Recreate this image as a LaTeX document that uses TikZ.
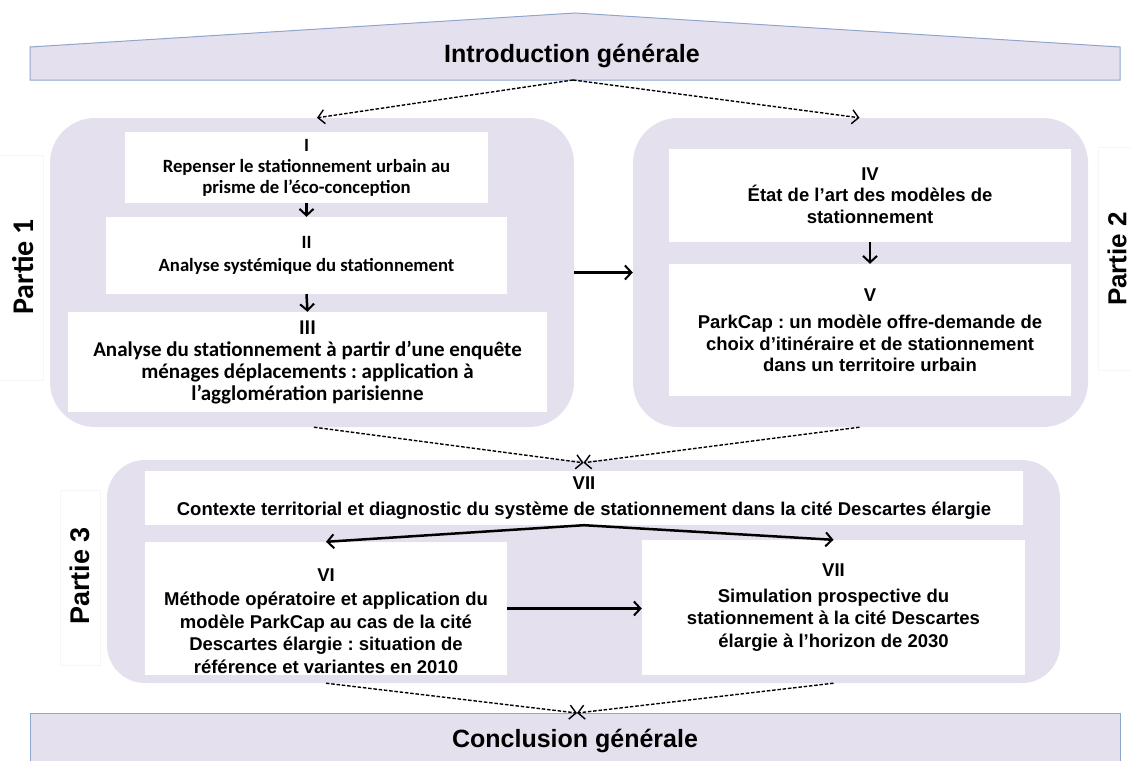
\documentclass[tikz,border=0pt]{standalone}
\usepackage{fontspec}
\setmainfont{Liberation Sans}
\newfontfamily\calib{Carlito}
\usetikzlibrary{arrows.meta,calc}
\definecolor{lav}{HTML}{E5E0EE}
\definecolor{bord}{HTML}{8EA6CC}
\definecolor{faint}{HTML}{F6F6F6}
\frenchspacing
\tikzset{
  container/.style={fill=lav, rounded corners=45pt, inner sep=0pt},
  wbox/.style={fill=white, inner sep=0pt, align=center, text=black},
  partlabel/.style={rotate=90, inner sep=0pt, font=\bfseries\fontsize{27}{30}\selectfont},
  faintframe/.style={draw=faint, line width=0.8pt},
  arr/.style={-{Straight Barb[length=6.5pt,width=14pt,line width=2pt]}, line width=2.5pt},
  darr/.style={dash pattern=on 3.5pt off 1.8pt, line width=1.4pt, -{Straight Barb[length=6.5pt,width=14pt,line width=1.4pt]}},
  fA/.style={font=\calib\bfseries\fontsize{18.7}{21}\selectfont},
  fB/.style={font=\calib\bfseries\fontsize{21}{22}\selectfont},
  fC/.style={font=\bfseries\fontsize{18.5}{21.5}\selectfont},
  fD/.style={font=\bfseries\fontsize{18.5}{22.5}\selectfont},
  fT/.style={font=\bfseries\fontsize{25}{28}\selectfont}
}
\begin{document}
\begin{tikzpicture}[x=1pt,y=-1pt]
\useasboundingbox (0,0) rectangle (1131,760);

% faint text frames of the side labels
\draw[faintframe] (-2,155) -- (43,155) -- (43,380) -- (-2,380);
\draw[faintframe] (1133,147) -- (1098,147) -- (1098,370) -- (1133,370);
\draw[faintframe] (60,490) rectangle (100,665);

% introduction banner
\draw[fill=lav, draw=bord, line width=1pt] (30,80) -- (30,47) -- (575,13) -- (1120,47) -- (1120,80) -- cycle;
\node[fT, anchor=base, inner sep=0pt] (intro) at (572,63) {Introduction générale};
\coordinate (introb) at (573,80);

% containers
\node[container, minimum width=524pt, minimum height=309pt] (c1) at (312,272.5) {};
\node[container, minimum width=455pt, minimum height=309pt] (c2) at (860.5,272.5) {};
\node[container, rounded corners=38pt, minimum width=953pt, minimum height=223pt] (c3) at (583.5,571.5) {};

% side labels
\node[partlabel, font=\calib\bfseries\fontsize{30}{32}\selectfont] (p1) at (23,267) {Partie 1};
\node[partlabel, font=\bfseries\fontsize{26}{28}\selectfont] (p2) at (1117,259) {Partie 2};
\node[partlabel] (p3) at (80,576) {Partie 3};

% partie 1
\node[wbox, fA, minimum width=363pt, minimum height=71pt] (b1) at (306.5,167.5)
  {I\\Repenser le stationnement urbain au\\prisme de l’éco-conception};
\node[wbox, fA, minimum width=401pt, minimum height=77pt] (b2) at (306.5,255.5)
  {II\\[2pt]Analyse systémique du stationnement};
\node[wbox, fB, minimum width=479pt, minimum height=100pt] (b3) at (307.5,362)
  {III\\Analyse du stationnement à partir d’une enquête\\ménages déplacements : application à\\l’agglomération parisienne};

% partie 2
\node[wbox, fC, minimum width=402pt, minimum height=93pt] (b4) at (870,195.5)
  {IV\\État de l’art des modèles de\\stationnement};
\node[wbox, fC, minimum width=402pt, minimum height=132pt] (b5) at (870,330)
  {V\\[6pt]ParkCap : un modèle offre-demande de\\choix d’itinéraire et de stationnement\\dans un territoire urbain};

% partie 3
\node[wbox, fD, minimum width=878pt, minimum height=54pt] (b7) at (584,498)
  {VII\\[3pt]Contexte territorial et diagnostic du système de stationnement dans la cité Descartes élargie};
\node[wbox, minimum width=362pt, minimum height=133pt] (b6) at (326,608.5) {};
\node[fD, align=center, inner sep=0pt] (t6) at (326,621)
  {VI\\[2pt]Méthode opératoire et application du\\modèle ParkCap au cas de la cité\\Descartes élargie : situation de\\référence et variantes en 2010};
\node[wbox, fD, minimum width=383pt, minimum height=135pt] (b8) at (833.5,607.5)
  {VII\\[3pt]Simulation prospective du\\stationnement à la cité Descartes\\élargie à l’horizon de 2030};

% conclusion
\fill[lav] (30,713) rectangle (1120,762);
\draw[bord, line width=1pt] (30,762) -- (30,713) -- (1120,713) -- (1120,762);
\node[fT, anchor=base, inner sep=0pt] (concl) at (575,747) {Conclusion générale};
\coordinate (conclt) at (577,713);

% solid connectors
\draw[arr] (b1.south) -- (b2.north);
\draw[arr] (b2.south) -- (b3.north);
\draw[arr] (b4.south) -- (b5.north);
\draw[arr] (c1.east) -- (c2.west);
\draw[arr] (b7.south) -- (b6.north);
\draw[arr] (b7.south) -- (b8.north);
\draw[arr] (b6.east) -- (b6.east -| b8.west);

% dashed connectors
\draw[darr] (introb) -- ([xshift=5pt]c1.north);
\draw[darr] (introb) -- ([xshift=-1pt]c2.north);
\draw[darr] ([xshift=2pt]c1.south) -- ([yshift=-3pt]c3.north);
\draw[darr] ([xshift=-1pt]c2.south) -- ([yshift=-3pt]c3.north);
\draw[darr] (b6.south |- c3.south) -- (conclt);
\draw[darr] (b8.south |- c3.south) -- (conclt);
\end{tikzpicture}
\end{document}
